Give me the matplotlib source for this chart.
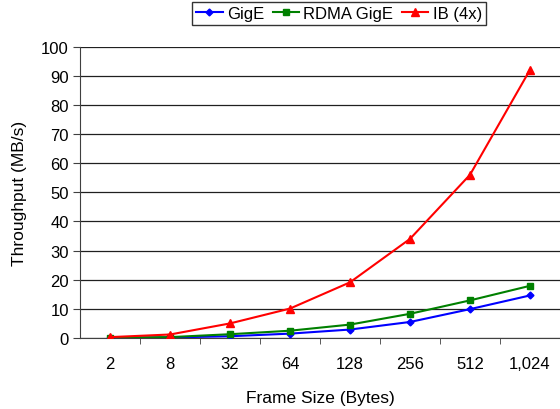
import matplotlib
matplotlib.use("Agg")
import matplotlib.pyplot as plt
from matplotlib.ticker import FixedLocator

plt.rcParams["font.family"] = ["Liberation Sans", "DejaVu Sans"]

frame_sizes = ["2", "8", "32", "64", "128", "256", "512", "1,024"]
gige = [0.05, 0.2, 0.6, 1.5, 2.9, 5.5, 9.9, 14.6]
rdma_gige = [0.1, 0.3, 1.3, 2.5, 4.6, 8.3, 12.9, 17.9]
ib_4x = [0.3, 1.2, 5.0, 10.1, 19.1, 34.0, 56.0, 92.0]


def main():
    fig = plt.figure(figsize=(5.6, 4.1), dpi=100)
    ax = fig.add_axes([80 / 560, 1 - 339 / 410, 480 / 560, (339 - 47.5) / 410])

    x = list(range(len(frame_sizes)))
    ax.plot(x, gige, color="#0000ff", marker="D", markersize=3.5, lw=1.5,
            label="GigE", zorder=3)
    ax.plot(x, rdma_gige, color="#008000", marker="s", markersize=5, lw=1.5,
            label="RDMA GigE", zorder=3)
    ax.plot(x, ib_4x, color="#ff0000", marker="^", markersize=6, lw=1.5,
            label="IB (4x)", zorder=4)

    ax.set_xlim(-0.5, len(frame_sizes) - 0.5)
    ax.set_ylim(0, 100)
    ax.set_yticks(range(0, 101, 10))
    ax.set_xticks(x)
    ax.set_xticklabels(frame_sizes)
    ax.tick_params(axis="x", length=0, pad=13, labelsize=12)
    ax.xaxis.set_minor_locator(FixedLocator([i + 0.5 for i in x[:-1]]))
    ax.tick_params(axis="x", which="minor", length=4, direction="out",
                   color="#404040")
    ax.tick_params(axis="y", length=5, direction="out", pad=3, labelsize=12,
                   color="#404040")

    ax.grid(axis="y", color="#202020", lw=0.9, zorder=1)
    for side in ("top", "right"):
        ax.spines[side].set_visible(False)
    ax.spines["left"].set_color("#404040")
    ax.spines["bottom"].set_color("#404040")
    ax.set_axisbelow(True)

    ax.set_xlabel("Frame Size (Bytes)", fontsize=12.5, labelpad=14)
    ax.set_ylabel("Throughput (MB/s)", fontsize=12.5, labelpad=10)

    fig.legend(loc="upper center", bbox_to_anchor=(339 / 560, 1 - 3 / 410),
               ncol=3, frameon=True, fancybox=False, edgecolor="black",
               fontsize=12, handlelength=1.6, handletextpad=0.25,
               columnspacing=0.5, borderpad=0.25, borderaxespad=0)

    fig.savefig("out.png", dpi=100)


if __name__ == "__main__":
    main()
